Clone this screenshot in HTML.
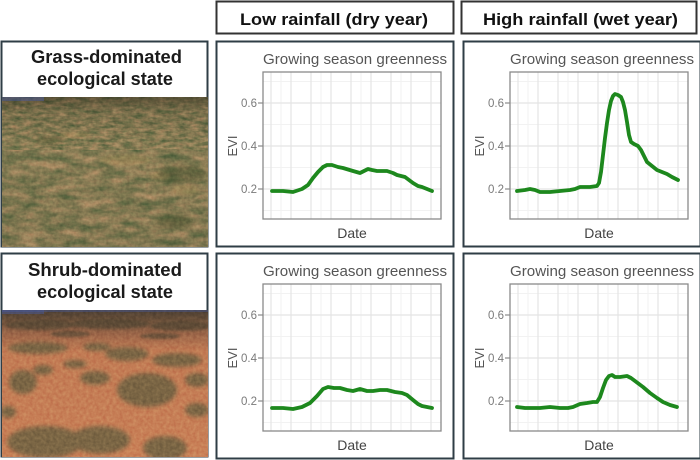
<!DOCTYPE html>
<html><head><meta charset="utf-8"><style>
html,body{margin:0;padding:0;background:#fff;}
svg{display:block;}
text{font-family:"Liberation Sans",Arial,sans-serif;}
</style></head><body>
<svg width="700" height="460" viewBox="0 0 700 460" xmlns="http://www.w3.org/2000/svg">
<defs>
  <clipPath id="cp1"><rect x="2" y="97" width="206" height="150"/></clipPath>
  <clipPath id="cp2"><rect x="2" y="310" width="206" height="147"/></clipPath>
  <filter id="bl" x="-20%" y="-20%" width="140%" height="140%"><feGaussianBlur stdDeviation="2"/></filter>
  <filter id="bl1" x="-20%" y="-20%" width="140%" height="140%"><feGaussianBlur stdDeviation="1.2"/></filter>
  <filter id="texA" x="0" y="0" width="1" height="1" color-interpolation-filters="sRGB">
    <feTurbulence type="fractalNoise" baseFrequency="0.09 0.28" numOctaves="3" seed="7"/>
    <feColorMatrix type="matrix" values="0.55 0 0 0 0.245  0.27 0 0 0 0.345  0.24 0 0 0 0.205  0 0 0 0 1"/>
  </filter>
  <filter id="texB" x="0" y="0" width="1" height="1" color-interpolation-filters="sRGB">
    <feTurbulence type="fractalNoise" baseFrequency="0.05 0.13" numOctaves="3" seed="11"/>
    <feColorMatrix type="matrix" values="0.55 0 0 0 0.245  0.27 0 0 0 0.345  0.24 0 0 0 0.205  0 0 0 0 1"/>
  </filter>
  <filter id="grain" x="0" y="0" width="1" height="1" color-interpolation-filters="sRGB">
    <feTurbulence type="fractalNoise" baseFrequency="0.3" numOctaves="2" seed="3"/>
    <feColorMatrix type="matrix" values="1.6 0 0 0 -0.3  1.6 0 0 0 -0.3  1.6 0 0 0 -0.3  0 0 0 0 1"/>
  </filter>
  <linearGradient id="shade1" x1="0" y1="0" x2="0" y2="1">
    <stop offset="0" stop-color="#2a2618" stop-opacity="0.5"/>
    <stop offset="0.1" stop-color="#2a2618" stop-opacity="0.15"/>
    <stop offset="0.3" stop-color="#2a2618" stop-opacity="0"/>
    <stop offset="1" stop-color="#2a2618" stop-opacity="0.05"/>
  </linearGradient>
  <linearGradient id="g2" x1="0" y1="0" x2="0" y2="1">
    <stop offset="0" stop-color="#4c3f33"/>
    <stop offset="0.06" stop-color="#654d38"/>
    <stop offset="0.16" stop-color="#9a6548"/>
    <stop offset="0.28" stop-color="#c27b54"/>
    <stop offset="1" stop-color="#c98057"/>
  </linearGradient>
</defs>

<!-- Header boxes -->
<rect x="216.5" y="1.5" width="237" height="32" fill="#fff" stroke="#333" stroke-width="2"/>
<text x="240" y="25" font-size="17" font-weight="bold" fill="#111" textLength="188" lengthAdjust="spacingAndGlyphs">Low rainfall (dry year)</text>
<rect x="461.5" y="1.5" width="235" height="32" fill="#fff" stroke="#333" stroke-width="2"/>
<text x="483" y="25" font-size="17" font-weight="bold" fill="#111" textLength="195" lengthAdjust="spacingAndGlyphs">High rainfall (wet year)</text>

<!-- Left panel top -->
<rect x="1.5" y="41.5" width="206" height="205" fill="#fff" stroke="#2f3d46" stroke-width="2"/>
<text x="31" y="63" font-size="18" font-weight="bold" fill="#1a1a1a" textLength="151" lengthAdjust="spacingAndGlyphs">Grass-dominated</text>
<text x="37" y="85" font-size="18" font-weight="bold" fill="#1a1a1a" textLength="136" lengthAdjust="spacingAndGlyphs">ecological state</text>
<g clip-path="url(#cp1)">
  <rect x="2" y="97" width="206" height="60" filter="url(#texA)"/>
  <rect x="2" y="150" width="206" height="97" filter="url(#texB)"/>
  <g fill="#b8955f" opacity="0.4" filter="url(#bl1)">
    <ellipse cx="125" cy="160" rx="25" ry="5"/><ellipse cx="185" cy="190" rx="14" ry="5"/>
    <ellipse cx="160" cy="176" rx="10" ry="4"/><ellipse cx="75" cy="135" rx="15" ry="3"/>
  </g>
  <g fill="#4f5530" opacity="0.5" filter="url(#bl)">
    <ellipse cx="182" cy="174" rx="24" ry="9"/><ellipse cx="50" cy="140" rx="15" ry="4"/>
    <ellipse cx="175" cy="222" rx="18" ry="7"/>
  </g>
  <rect x="2" y="97" width="206" height="150" fill="url(#shade1)"/>
  <rect x="2" y="97" width="206" height="150" filter="url(#grain)" opacity="0.1" style="mix-blend-mode:overlay"/>
  <rect x="2" y="97" width="42" height="4" fill="#4a5a9a" opacity="0.5"/>
</g>

<!-- Left panel bottom -->
<rect x="1.5" y="253.5" width="206" height="203" fill="#fff" stroke="#2f3d46" stroke-width="2"/>
<text x="28" y="276" font-size="18" font-weight="bold" fill="#1a1a1a" textLength="154" lengthAdjust="spacingAndGlyphs">Shrub-dominated</text>
<text x="37" y="298" font-size="18" font-weight="bold" fill="#1a1a1a" textLength="136" lengthAdjust="spacingAndGlyphs">ecological state</text>
<g clip-path="url(#cp2)">
  <rect x="2" y="310" width="206" height="147" fill="url(#g2)"/>
  <g fill="#4f4532" opacity="0.65" filter="url(#bl1)">
    <ellipse cx="40" cy="325" rx="35" ry="5"/><ellipse cx="110" cy="324" rx="40" ry="5"/>
    <ellipse cx="180" cy="326" rx="30" ry="5"/><ellipse cx="70" cy="334" rx="20" ry="3"/>
    <ellipse cx="160" cy="336" rx="20" ry="3"/>
  </g>
  <g fill="#665f40" opacity="0.78" filter="url(#bl)">
    <ellipse cx="38" cy="348" rx="30" ry="6"/><ellipse cx="97" cy="347" rx="14" ry="4"/>
    <ellipse cx="127" cy="354" rx="22" ry="7"/><ellipse cx="177" cy="360" rx="25" ry="7"/>
    <ellipse cx="23" cy="382" rx="14" ry="12"/><ellipse cx="43" cy="370" rx="10" ry="5"/>
    <ellipse cx="75" cy="364" rx="12" ry="4"/><ellipse cx="95" cy="378" rx="15" ry="7"/>
    <ellipse cx="147" cy="390" rx="30" ry="17"/><ellipse cx="197" cy="380" rx="12" ry="7"/>
    <ellipse cx="8" cy="412" rx="8" ry="6"/><ellipse cx="197" cy="410" rx="12" ry="7"/>
    <ellipse cx="45" cy="442" rx="38" ry="16"/><ellipse cx="100" cy="440" rx="30" ry="14"/>
    <ellipse cx="165" cy="448" rx="22" ry="12"/>
  </g>
  <rect x="2" y="310" width="206" height="147" filter="url(#grain)" opacity="0.12" style="mix-blend-mode:overlay"/>
  <rect x="2" y="310" width="206" height="2" fill="#4a5a9a" opacity="0.45"/>
  <rect x="2" y="310" width="42" height="4" fill="#4a5a9a" opacity="0.5"/>
</g>

<!-- Chart panel template: TL -->
<g id="tl">
<rect x="216.5" y="41.5" width="237" height="205" fill="#fff" stroke="#2f3d46" stroke-width="2"/>
<text x="263" y="64" font-size="15" fill="#555" textLength="184" lengthAdjust="spacingAndGlyphs">Growing season greenness</text>
<rect x="263" y="72" width="178" height="147" fill="#fff"/>
<g stroke="#f2f2f2" stroke-width="1">
  <line x1="263" y1="81.5" x2="441" y2="81.5"/><line x1="263" y1="124.5" x2="441" y2="124.5"/>
  <line x1="263" y1="167.5" x2="441" y2="167.5"/><line x1="263" y1="210.5" x2="441" y2="210.5"/>
  <line x1="281" y1="72" x2="281" y2="219"/><line x1="321" y1="72" x2="321" y2="219"/>
  <line x1="361" y1="72" x2="361" y2="219"/><line x1="401" y1="72" x2="401" y2="219"/>
</g>
<g stroke="#e4e4e4" stroke-width="1.2">
  <line x1="263" y1="103" x2="441" y2="103"/><line x1="263" y1="146" x2="441" y2="146"/>
  <line x1="263" y1="189" x2="441" y2="189"/>
  <line x1="271" y1="72" x2="271" y2="219"/><line x1="291" y1="72" x2="291" y2="219"/>
  <line x1="311" y1="72" x2="311" y2="219"/><line x1="331" y1="72" x2="331" y2="219"/>
  <line x1="351" y1="72" x2="351" y2="219"/><line x1="371" y1="72" x2="371" y2="219"/>
  <line x1="391" y1="72" x2="391" y2="219"/><line x1="411" y1="72" x2="411" y2="219"/>
  <line x1="431" y1="72" x2="431" y2="219"/>
</g>
<rect x="263" y="72" width="178" height="147" fill="none" stroke="#8a8a8a" stroke-width="1.3"/>
<g stroke="#8a8a8a" stroke-width="1.2">
  <line x1="258" y1="103" x2="263" y2="103"/><line x1="258" y1="146" x2="263" y2="146"/><line x1="258" y1="189" x2="263" y2="189"/>
</g>
<g font-size="11.5" fill="#7a7a7a" text-anchor="end">
  <text x="257" y="107">0.6</text><text x="257" y="150">0.4</text><text x="257" y="193">0.2</text>
</g>
<text transform="translate(237,146) rotate(-90)" font-size="13" fill="#555" text-anchor="middle">EVI</text>
<text x="352" y="238" font-size="14" fill="#444" text-anchor="middle">Date</text>
</g>
<use href="#tl" transform="translate(0,212)"/>
<use href="#tl" transform="translate(247,0)"/>
<use href="#tl" transform="translate(247,212)"/>

<!-- Data lines -->
<g fill="none" stroke="#1d881d" stroke-width="3.8" stroke-linejoin="round" stroke-linecap="round">
<polyline points="272,191 283,191 293,192 302,189 308,185 313,178 318,172 323,167 327,165 332,165 338,167 343,168 353,171 360,173 364,171 368,169 372,170 377,171 387,171 393,173 397,175 405,177 409,180 413,183 418,186 422,187 427,189 432,191"/>
<polyline points="517,191 525,190 530,189 535,190 540,192 550,192 560,191 570,190 575,189 580,187 590,187 597,186 599,183 601,172 603,155 605,138 607,123 609,110 611,101 613,96 615,94 618,95 621,97 623,102 625,110 627,122 629,135 631,142 634,144 638,146 641,150 644,156 647,162 652,166 657,170 662,172 667,174 672,177 678,180"/>
<polyline points="272,408 283,408 293,409 302,407 310,403 317,396 323,389 328,387 334,388 340,388 347,390 353,391 360,389 367,391 373,391 380,390 387,390 395,392 402,393 407,395 413,400 418,404 422,406 427,407 432,408"/>
<polyline points="517,407 525,408 530,408 540,408 550,407 560,408 568,408 573,407 580,404 587,403 593,402 597,402 600,397 603,388 606,380 609,376 612,375 615,377 620,377 627,376 631,378 635,381 643,387 650,393 657,398 663,402 670,405 677,407"/>
</g>
</svg>
</body></html>
